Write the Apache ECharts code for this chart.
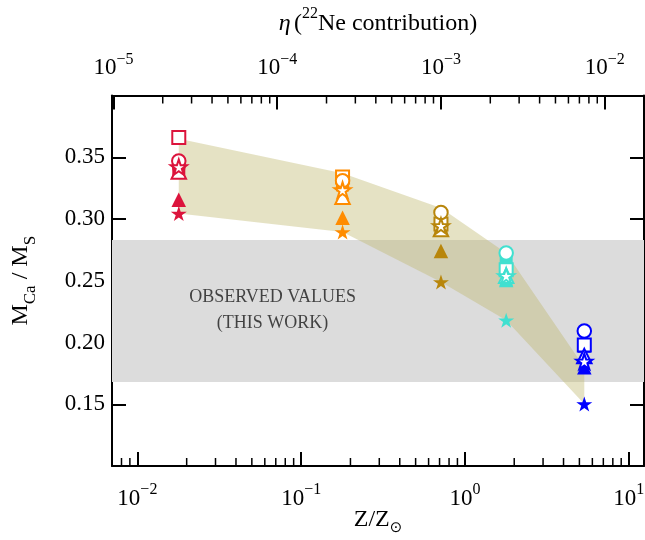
<!DOCTYPE html>
<html><head><meta charset="utf-8">
<script src="https://cdn.jsdelivr.net/npm/echarts@6/dist/echarts.min.js"></script>
<style>html,body{margin:0;padding:0;background:#fff}#c{width:645px;height:540px}</style>
</head><body><div id="c"></div>
<script>
// ---- data ----
const zOverZsun   = [0.0179, 0.179, 0.714, 1.786, 5.357];
const groupColors = ['#DC143C', '#FF8C00', '#B8860B', '#40E0D0', '#0000FF'];

const squareFilled   = [0.341, 0.3276, 0.293, 0.265, 0.197];
const circleFilled   = [0.342, 0.326, 0.294, 0.262, 0.199];
const triangleFilled = [0.3155, 0.301, 0.2741, 0.2506, 0.180];
const starFilled     = [0.3045, 0.2895, 0.249, 0.218, 0.1502];
const squareOpen     = [0.366, 0.334, 0.296, 0.259, 0.198];
const circleOpen     = [0.347, 0.331, 0.3053, 0.2725, 0.2093];
const triangleOpen   = [0.3385, 0.318, 0.292, 0.254, 0.189];
const starOpen       = [0.342, 0.3235, 0.2944, 0.2539, 0.1847];

const bandUpper = [0.365, 0.337, 0.309, 0.2725, 0.180];
const bandLower = [0.3045, 0.2895, 0.249, 0.218, 0.1502];

const observedRange = [0.168, 0.283];
const observedText = 'OBSERVED VALUES\n(THIS WORK)';
const observedTextPos = [0.0669, 0.2264];

const etaPerZ = 1.4e-3;            // eta = etaPerZ * Z/Zsun
const xRange = [0.007, 12.4];
const yRange = [0.10, 0.40];
const yStep = 0.05;

const bottomMinorTicks = [0.008, 0.009, 0.02, 0.03, 0.04, 0.05, 0.06, 0.07, 0.08, 0.09,
  0.2, 0.3, 0.4, 0.5, 0.6, 0.7, 0.8, 0.9, 2, 3, 4, 5, 6, 7, 8, 9];
const topMinorTicks = [2e-5, 3e-5, 4e-5, 5e-5, 6e-5, 7e-5, 8e-5, 9e-5,
  2e-4, 3e-4, 4e-4, 5e-4, 6e-4, 7e-4, 8e-4, 9e-4,
  2e-3, 3e-3, 4e-3, 5e-3, 6e-3, 7e-3, 8e-3, 9e-3];

// ---- styling ----
const FONT = 'Liberation Serif';
const STAR = 'path://M100,0 L122.45,69.1 L195.11,69.1 L136.33,111.8 L158.78,180.9 L100,138.2 L41.22,180.9 L63.67,111.8 L4.89,69.1 L77.55,69.1 Z';

function powLabel(v) {
  const l = Math.log10(v), e = Math.round(l);
  if (Math.abs(l - e) > 1e-6) return '';
  return '{b|10}{s|' + (e < 0 ? '\u2212' + (-e) : e) + '}';
}
const powRich = {
  b: {fontFamily: FONT, fontSize: 23, color: '#000', lineHeight: 28, verticalAlign: 'bottom'},
  s: {fontFamily: FONT, fontSize: 16, color: '#000', lineHeight: 14, verticalAlign: 'top'}
};
const axisLineStyle = {color: '#000', width: 2};

function markerSeries(name, vals, symbol, size, filled) {
  return {
    type: 'scatter', name: name, symbol: symbol, symbolSize: size, z: filled ? 4 : 5,
    itemStyle: {opacity: 1},
    emphasis: {disabled: true},
    data: vals.map((v, i) => ({
      value: [zOverZsun[i], v],
      itemStyle: filled ? {color: groupColors[i], borderWidth: 0, opacity: 1}
                        : {color: '#fff', borderColor: groupColors[i], borderWidth: 2, opacity: 1}
    }))
  };
}

const chart = echarts.init(document.getElementById('c'), null, {renderer: 'canvas'});
chart.setOption({
  animation: false,
  backgroundColor: '#fff',
  grid: {left: 112, right: 1, top: 95.5, bottom: 74, containLabel: false, outerBoundsMode: 'none'},
  xAxis: [{
    type: 'log', logBase: 10, position: 'bottom', min: xRange[0], max: xRange[1],
    axisLine: {show: true, lineStyle: axisLineStyle},
    axisTick: {show: true, inside: true, length: 14, lineStyle: {color: '#000', width: 2}},
    splitLine: {show: false},
    axisLabel: {show: true, margin: 16, showMinLabel: false, showMaxLabel: false,
      formatter: powLabel, rich: powRich},
    name: '{b|Z/Z}{s|\u2299}', nameLocation: 'middle', nameGap: 42, nameMoveOverlap: false,
    nameTextStyle: {rich: {
      b: {fontFamily: FONT, fontSize: 24, color: '#000', lineHeight: 28, verticalAlign: 'top'},
      s: {fontFamily: 'DejaVu Sans', fontSize: 15, color: '#000', lineHeight: 16, verticalAlign: 'bottom'}
    }}
  }, {
    type: 'log', logBase: 10, position: 'top', min: xRange[0] * etaPerZ, max: xRange[1] * etaPerZ,
    axisLine: {show: true, lineStyle: axisLineStyle},
    axisTick: {show: true, inside: true, length: 14, lineStyle: {color: '#000', width: 2}},
    splitLine: {show: false},
    axisLabel: {show: true, margin: 16, showMinLabel: false, showMaxLabel: false,
      formatter: powLabel, rich: powRich},
    name: '{i|\u03B7} {b|(}{s|22}{b|Ne contribution)}', nameLocation: 'middle', nameGap: 60, nameMoveOverlap: false,
    nameTextStyle: {rich: {
      i: {fontFamily: FONT, fontStyle: 'italic', fontSize: 24, color: '#000', lineHeight: 30, verticalAlign: 'bottom'},
      b: {fontFamily: FONT, fontSize: 24, color: '#000', lineHeight: 30, verticalAlign: 'bottom'},
      s: {fontFamily: FONT, fontSize: 16, color: '#000', lineHeight: 16, verticalAlign: 'top'}
    }}
  }],
  yAxis: [{
    type: 'value', position: 'left', min: yRange[0], max: yRange[1], interval: yStep,
    axisLine: {show: true, lineStyle: axisLineStyle},
    axisTick: {show: true, inside: true, length: 14, lineStyle: {color: '#000', width: 2}},
    splitLine: {show: false},
    axisLabel: {show: true, margin: 7, fontFamily: FONT, fontSize: 23, color: '#000',
      showMinLabel: false, showMaxLabel: false, formatter: v => v.toFixed(2)},
    name: '{b|M}{s|Ca}{b| / M}{s|S}', nameLocation: 'middle', nameGap: 73, nameMoveOverlap: false,
    nameTextStyle: {rich: {
      b: {fontFamily: FONT, fontSize: 24, color: '#000', lineHeight: 30, verticalAlign: 'top'},
      s: {fontFamily: FONT, fontSize: 17, color: '#000', lineHeight: 16, verticalAlign: 'bottom'}
    }}
  }, {
    type: 'value', position: 'right', min: yRange[0], max: yRange[1], interval: yStep,
    axisLine: {show: true, lineStyle: axisLineStyle},
    axisTick: {show: true, inside: true, length: 14, lineStyle: {color: '#000', width: 2}},
    splitLine: {show: false},
    axisLabel: {show: false}
  }],
  series: [
    { // observed band
      type: 'line', name: 'observed', data: [], z: 0, silent: true,
      markArea: {silent: true, itemStyle: {color: '#dcdcdc', opacity: 1},
        data: [[{yAxis: observedRange[0]}, {yAxis: observedRange[1]}]]}
    },
    { // model band
      type: 'custom', name: 'band', z: 1, silent: true,
      data: zOverZsun.map((z, i) => [z, bandLower[i], bandUpper[i]]),
      renderItem: function (params, api) {
        if (params.dataIndex !== 0) return null;
        const pts = [];
        for (let i = 0; i < zOverZsun.length; i++) pts.push(api.coord([zOverZsun[i], bandUpper[i]]));
        for (let i = zOverZsun.length - 1; i >= 0; i--) pts.push(api.coord([zOverZsun[i], bandLower[i]]));
        return {type: 'polygon', shape: {points: pts}, style: {fill: 'rgba(189,183,107,0.4)'}};
      }
    },
    { // text
      type: 'scatter', name: 'observedText', symbolSize: 0, z: 3, silent: true,
      data: [observedTextPos],
      label: {show: true, position: 'inside', formatter: observedText,
        fontFamily: FONT, fontSize: 18, lineHeight: 26, color: '#1a1a1a', align: 'center'}
    },
    { // bottom minor ticks
      type: 'custom', name: 'minorBottom', xAxisIndex: 0, yAxisIndex: 0, z: 10, silent: true, clip: false,
      data: bottomMinorTicks.map(v => [v, yRange[0]]),
      renderItem: function (params, api) {
        const p = api.coord([api.value(0), api.value(1)]);
        return {type: 'line', shape: {x1: p[0], y1: p[1], x2: p[0], y2: p[1] - 8},
          style: {stroke: '#000', lineWidth: 1.5}};
      }
    },
    { // top minor ticks
      type: 'custom', name: 'minorTop', xAxisIndex: 1, yAxisIndex: 0, z: 10, silent: true, clip: false,
      data: topMinorTicks.map(v => [v, yRange[1]]),
      renderItem: function (params, api) {
        const p = api.coord([api.value(0), api.value(1)]);
        return {type: 'line', shape: {x1: p[0], y1: p[1], x2: p[0], y2: p[1] + 8},
          style: {stroke: '#000', lineWidth: 1.5}};
      }
    },
    markerSeries('square filled', squareFilled, 'rect', 13, true),
    markerSeries('circle filled', circleFilled, 'circle', 13.5, true),
    markerSeries('triangle filled', triangleFilled, 'triangle', 14.5, true),
    markerSeries('star filled', starFilled, STAR, [16, 15.2], true),
    markerSeries('square open', squareOpen, 'rect', 13, false),
    markerSeries('circle open', circleOpen, 'circle', 13.5, false),
    markerSeries('triangle open', triangleOpen, 'triangle', 14.5, false),
    markerSeries('star open', starOpen, STAR, [16, 15.2], false)
  ]
});
</script>
</body></html>
